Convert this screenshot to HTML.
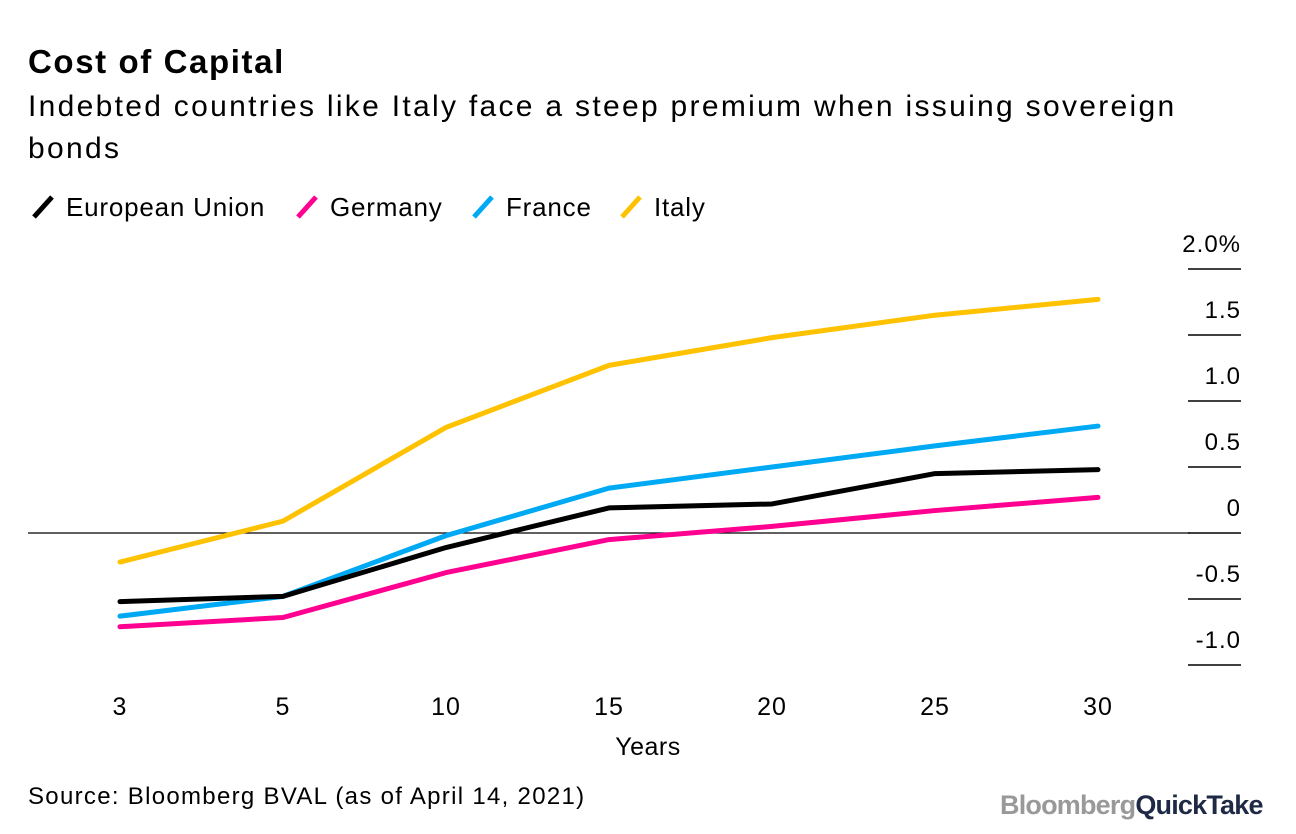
<!DOCTYPE html>
<html><head><meta charset="utf-8"><style>
body{margin:0;width:1296px;height:834px;background:#fff;font-family:"Liberation Sans",sans-serif;overflow:hidden;position:relative}
.t{position:absolute;white-space:nowrap;color:#000}
</style></head><body>
<div class="t" style="left:28px;top:43px;font-size:33px;font-weight:bold;letter-spacing:1.6px">Cost of Capital</div>
<div class="t" style="left:28px;top:86px;font-size:30px;line-height:42px;letter-spacing:2.3px;white-space:normal;width:1230px">Indebted countries like Italy face a steep premium when issuing sovereign bonds</div>
<svg id="c" width="1296" height="834" style="position:absolute;left:0;top:0"></svg>
<div class="t" style="left:28px;top:783px;font-size:24px;letter-spacing:1.3px">Source: Bloomberg BVAL (as of April 14, 2021)</div>
<div class="t" style="left:1000px;top:790px;font-size:27px;font-weight:bold;letter-spacing:-0.8px"><span style="color:#999">Bloomberg</span><span style="color:#1e2a45">QuickTake</span></div>
<script>
const categories=["3","5","10","15","20","25","30"];
const seriesNames=["European Union","Germany","France","Italy"];
const seriesColors=["#000000","#ff0090","#00a9f4","#ffc200"];
const euValues=[-0.52,-0.48,-0.11,0.19,0.22,0.45,0.48];
const germanyValues=[-0.71,-0.64,-0.30,-0.05,0.05,0.17,0.27];
const franceValues=[-0.63,-0.48,-0.02,0.34,0.50,0.66,0.81];
const italyValues=[-0.22,0.09,0.80,1.27,1.48,1.65,1.77];
const yTicks=[2.0,1.5,1.0,0.5,0,-0.5,-1.0];
const yTickLabels=["2.0%","1.5","1.0","0.5","0","-0.5","-1.0"];
const NS="http://www.w3.org/2000/svg";
const svg=document.getElementById('c');
const x=i=>120+i*163;
const y=v=>533-v*132;
function mk(t,a){const e=document.createElementNS(NS,t);for(const k in a)e.setAttribute(k,a[k]);svg.appendChild(e);return e;}
yTicks.forEach((v,i)=>{
  const l=mk('line',{x1:1188,x2:1241,y1:y(v),y2:y(v),stroke:'#000','stroke-width':1.5});
  
  
  const t=mk('text',{x:1241,y:y(v)-17,'text-anchor':'end','font-size':24,'letter-spacing':1,'font-family':'Liberation Sans'});
  t.textContent=yTickLabels[i];
  
  
});
const z=mk('line',{x1:28,x2:1190,y1:y(0),y2:y(0),stroke:'#000','stroke-width':1.2});


categories.forEach((c,i)=>{
  const t=mk('text',{x:x(i),y:715,'text-anchor':'middle','font-size':25,'letter-spacing':1,'font-family':'Liberation Sans'});
  t.textContent=c;
  
  
});
const xt=mk('text',{x:648,y:755,'text-anchor':'middle','font-size':25,'letter-spacing':0.5,'font-family':'Liberation Sans'});
xt.textContent='Years';


const allSeries=[euValues,germanyValues,franceValues,italyValues];
const order=[3,2,0,1];
order.forEach(s=>{
  const p=mk('polyline',{points:allSeries[s].map((v,i)=>x(i)+','+y(v)).join(' '),fill:'none',stroke:seriesColors[s],'stroke-width':5,'stroke-linejoin':'round','stroke-linecap':'round'});
  
  
});
const legX=[30,294,470,618];
seriesNames.forEach((n,i)=>{
  const l=mk('line',{x1:legX[i]+4,y1:217,x2:legX[i]+22,y2:197,stroke:seriesColors[i],'stroke-width':5});
  
  
  const t=mk('text',{x:legX[i]+36,y:216,'font-size':26,'letter-spacing':0.8,'font-family':'Liberation Sans'});
  t.textContent=n;
  
  
});
</script>
</body></html>
